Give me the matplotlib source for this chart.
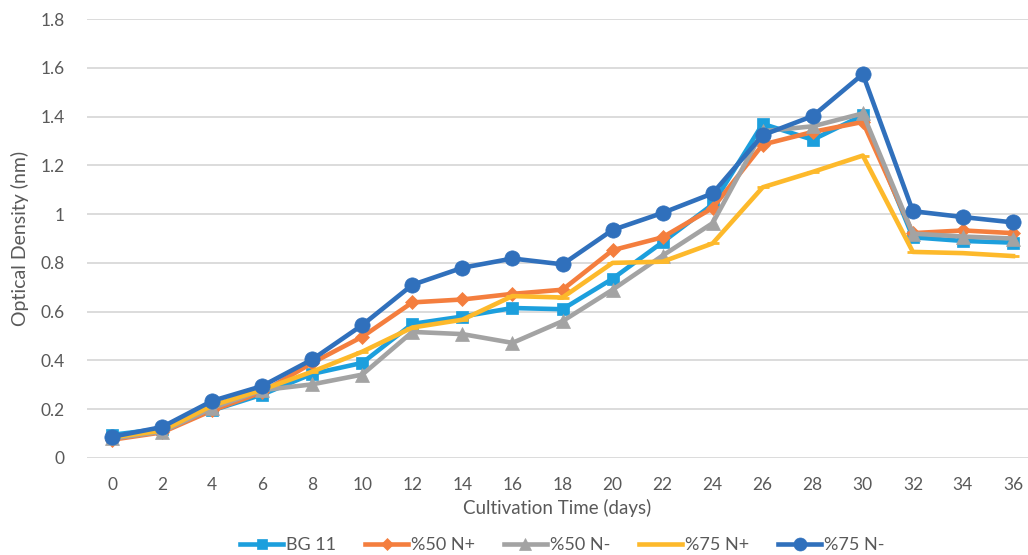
import matplotlib
matplotlib.use("Agg")
import matplotlib.pyplot as plt

days = [0, 2, 4, 6, 8, 10, 12, 14, 16, 18, 20, 22, 24, 26, 28, 30, 32, 34, 36]
bg11 = [0.095, 0.12, 0.195, 0.26, 0.345, 0.39, 0.55, 0.58, 0.615, 0.61, 0.735, 0.885, 1.04, 1.37, 1.305, 1.405, 0.905, 0.89, 0.883]
n50_plus = [0.075, 0.105, 0.195, 0.27, 0.39, 0.497, 0.638, 0.65, 0.673, 0.69, 0.852, 0.905, 1.025, 1.285, 1.337, 1.378, 0.922, 0.933, 0.922]
n50_minus = [0.08, 0.108, 0.205, 0.278, 0.302, 0.342, 0.517, 0.508, 0.472, 0.561, 0.69, 0.83, 0.963, 1.34, 1.36, 1.413, 0.92, 0.908, 0.9]
n75_plus = [0.085, 0.112, 0.215, 0.28, 0.354, 0.436, 0.535, 0.567, 0.664, 0.658, 0.8, 0.805, 0.88, 1.11, 1.173, 1.24, 0.845, 0.84, 0.828]
n75_minus = [0.087, 0.127, 0.234, 0.295, 0.404, 0.545, 0.71, 0.78, 0.818, 0.794, 0.935, 1.005, 1.085, 1.324, 1.402, 1.574, 1.012, 0.988, 0.966]
labels = ["BG 11", "%50 N+", "%50 N-", "%75 N+", "%75 N-"]
xticks = list(range(0, 37, 2))
yticks = [0, 0.2, 0.4, 0.6, 0.8, 1, 1.2, 1.4, 1.6, 1.8]

plt.rcParams['font.family'] = ['Lato', 'DejaVu Sans']
txt = '#595959'

fig = plt.figure(figsize=(10.28, 5.55), dpi=100)
ax = fig.add_axes([87/1028, 97/555, (1028-87)/1028, (458-19)/555])

series = [
    (bg11, '#1C9FDD', 's', 9),
    (n50_plus, '#F47E3E', 'D', 7),
    (n50_minus, '#A3A3A3', '^', 10),
    (n75_plus, '#FDB92B', '_', 8),
    (n75_minus, '#3070BC', 'o', 11),
]
for (vals, c, m, ms), lab in zip(series, labels):
    ax.plot(days, vals, color=c, lw=3.3, marker=m, markersize=ms,
            markeredgewidth=2 if m == '_' else 0.5, markeredgecolor=c,
            label=lab, solid_joinstyle='round')

ax.set_xlim(-1, 36.6)
ax.set_ylim(0, 1.8)
ax.set_xticks(xticks)
ax.set_xticklabels([str(t) for t in xticks])
ax.set_yticks(yticks)
ax.set_yticklabels(['0', '0.2', '0.4', '0.6', '0.8', '1', '1.2', '1.4', '1.6', '1.8'])
ax.tick_params(axis='both', length=0, colors=txt, labelsize=12.5)
ax.tick_params(axis='y', pad=16)
ax.tick_params(axis='x', pad=14)
for s in ax.spines.values():
    s.set_visible(False)
ax.grid(axis='y', color='#D9D9D9', lw=1.3)
ax.set_axisbelow(True)

ax.set_xlabel('Cultivation Time (days)', color=txt, fontsize=13.5, labelpad=4)
ax.set_ylabel('Optical Density (nm)', color=txt, fontsize=14, labelpad=8)

leg = fig.legend(loc='center', bbox_to_anchor=(0.547, 0.018), ncol=5, frameon=False,
                 fontsize=13, handlelength=2.4, columnspacing=1.6, handletextpad=0.15,
                 labelcolor=txt, markerscale=0.85)

fig.savefig('out.png', dpi=100)
